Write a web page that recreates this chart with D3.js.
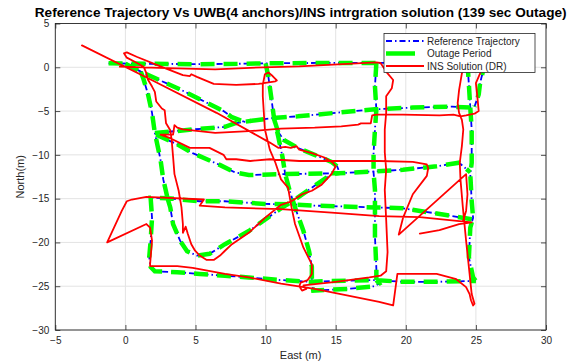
<!DOCTYPE html>
<html>
<head>
<meta charset="utf-8">
<script src="https://cdn.jsdelivr.net/npm/d3@7"></script>
<style>
  html, body { margin: 0; padding: 0; background: #ffffff; }
  svg { display: block; font-family: "Liberation Sans", Arial, Helvetica, sans-serif; }
</style>
</head>
<body>
<svg id="chart" width="577" height="364"></svg>
<script>
// ---- chart text -------------------------------------------------------
const titleText = "Reference Trajectory Vs UWB(4 anchors)/INS intrgration solution (139 sec Outage)";
const xLabelText = "East (m)";
const yLabelText = "North(m)";
const seriesNames = ["Reference Trajectory", "Outage Period", "INS Solution (DR)"];

// ---- tick values ------------------------------------------------------
const xTicks = [-5, 0, 5, 10, 15, 20, 25, 30];
const yTicks = [5, 0, -5, -10, -15, -20, -25, -30];

// ---- reference trajectory [east, north] in metres (null = pen up) -----
const referenceTrack = [
  [-1.2,0.45],[2,0.4],[5,0.35],[8,0.4],[10,0.45],[14,0.5],[18,0.5],[22,0.55],[24.4,0.55],[25.8,0.7], null,
  [24.4,0.5],[24.5,-2.0],[24.6,-4.6], null,
  [25.8,0.6],[25.5,-0.5],[25.3,-1.8],[25.2,-3.1],[24.9,-4.5], null,
  [24.6,-4.6],[23.3,-4.5],[20.5,-4.6],[17.8,-4.8],[15,-5.2],[12.3,-5.6],[10.5,-5.8],[9.0,-6.1], null,
  [0,0.4],[1.1,-0.5],[4.0,-2.6],[7.0,-5.0],[7.6,-5.7],[8.6,-6.3],[9.0,-6.1], null,
  [1.1,-0.5],[1.3,-1.4],[1.6,-3.0],[1.9,-5.2],[2.1,-7.5],[2.5,-10.5],[2.7,-12.8],[3.0,-14.9], null,
  [2.1,-7.5],[3.5,-7.3],[4.8,-7.1],[7.1,-6.8],[7.8,-6.4],[9.0,-6.1], null,
  [2.2,-7.7],[3.7,-8.8],[4.8,-9.8],[6.8,-11.2],[7.8,-12.0],[8.8,-12.3],[11.2,-12.2],[15.2,-12.1],[17.7,-11.9],[19.8,-11.7],[22.2,-11.3],[23.8,-10.9],[24.6,-12.0], null,
  [10.0,0.45],[10.2,-1.1],[10.4,-3.4],[10.6,-5.8],[10.9,-7.9],[11.2,-10.2],[11.4,-12.2],[11.7,-14.0],[12.1,-16.0],[12.7,-18.7],[13.1,-21.0],[13.3,-22.8],[13.3,-24.5],[13.4,-25.5],[15.9,-25.3],[17.8,-25.0],[18.1,-24.7],[17.9,-24.3], null,
  [10.6,-5.9],[10.9,-7.4],[11.3,-8.3],[12.3,-9.2],[13.5,-10.0],[14.7,-10.8],[15.1,-11.3],[15.3,-12.1], null,
  [17.9,0.5],[17.8,-2.2],[17.9,-4.8],[17.8,-7.1],[17.7,-9.8],[17.7,-12.0],[17.8,-14.0],[17.8,-16.2],[17.8,-19.3],[17.9,-23.0],[17.9,-24.3], null,
  [24.6,-4.6],[24.7,-7.1],[24.7,-10.9],[24.6,-12.2],[24.7,-15.3],[24.8,-17.2],[24.6,-18.3],[24.5,-21.7],[24.8,-24.0],[25.0,-24.4], null,
  [24.7,-17.35],[22.2,-16.7],[19.8,-16.1],[17.8,-16.0],[13.5,-15.8],[11.8,-15.65],[9.95,-15.6],[7.1,-15.3],[5.3,-15.3],[3.0,-14.95],[1.8,-14.9],
  [1.9,-17.2],[1.8,-19.8],[1.7,-21.7],[1.8,-22.8],[2.1,-23.3],[3.7,-23.4],[5.3,-23.6],[7.1,-23.8],[8.8,-24.0],[11.1,-24.3],[13.3,-24.5],[14.7,-24.4],[17.8,-24.3],[19.8,-24.5],[22.2,-24.5],[25.0,-24.4], null,
  [3.0,-14.95],[3.2,-16.0],[3.4,-17.9],[3.9,-19.8],[4.4,-21.0],[5.1,-21.5],[6.0,-21.3],[7.1,-20.2],[8.8,-18.7],[11.2,-16.0],[11.9,-15.3],[14.7,-12.2],[15.3,-12.1]
];

// outage window, as index range into the reference run (whole run)
const outageWindow = [0, referenceTrack.length];

// ---- INS dead-reckoning solution [east, north] (null = pen up) --------
const insTrack = [
  [-3.1,2.5],[1.8,-1.4],[6.5,-5.2],[10.3,-8.6],[10.9,-9.2],[11.4,-9.1],[11.8,-9.2],[12.2,-9.0],[12.4,-9.4],[13.3,-9.8],[14.2,-10.3],[14.8,-10.9],[15.0,-11.3],
  [14.7,-12.2],[14.0,-13.4],[13.3,-14.1],[12.6,-14.5],[11.85,-15.3],[11.1,-15.7],[9.95,-17.2],[8.8,-18.9],[7.6,-20.2],[7.1,-20.95],[6.75,-21.5],[6.3,-22.0],[5.8,-22.0],[5.3,-21.5],[4.97,-20.95],[4.7,-20.2],[4.45,-19.0],[4.3,-18.2],[4.1,-18.9],[4.1,-17.9],
  [4.0,-16.0],[3.8,-14.1],[3.5,-12.2],[3.4,-10.2],[3.3,-8.3],[3.2,-7.2],[2.9,-6.4],[2.8,-4.9],[2.6,-4.7],[2.5,-4.5],[2.2,-3.9],[2.1,-2.8],[1.9,-2.2],[1.6,-1.4],[1.5,-0.7],[1.3,0.07],[0.7,0.6],[0.1,1.1],[-0.1,1.6],
  [0.1,1.7],[0.8,1.2],[2.5,0.1],[4.1,-0.9],[4.6,-1.0],[4.7,-0.8],[5.1,-1.1],[6.3,-1.9],[7.9,-2.0],[9.5,-1.9],[10.7,-1.6],[10.8,-1.5],[10.5,-1.0],[10.2,-0.6],[9.95,-0.8],
  [9.8,-2.0],[9.8,-3.3],[9.95,-7.1],[10.3,-9.4],[10.7,-10.9],[11.1,-12.8],[11.6,-13.75],[11.85,-16.0],[12.1,-17.9],[12.7,-20.6],[13.3,-22.5],[13.3,-23.6],[13.0,-24.3],[12.5,-24.6],[12.4,-25.0],[12.6,-25.5],[12.9,-25.3],[12.7,-24.9],
  [15.0,-24.5],[17.4,-24.0],[18.2,-23.8],[18.6,-23.3],[18.7,-21.1],[18.6,-17.4],[18.5,-14.0],[18.6,-11.7],[18.5,-9.7],[18.5,-7.1],[18.6,-5.2],[18.6,-3.3],[19.0,-2.4],[19.1,-1.45],[18.7,-0.7],[18.2,0.5],
  [17.9,0.55],[12.4,0.1],[9.8,0.0],[6.4,-0.23],[3.0,-0.1],[-0.4,0.07], null,
  [25.5,0.8],[25.3,-0.7],[25.0,-1.8],[25.1,-3.3],[25.2,-5.0],[24.9,-5.3],[24.3,-5.5],[23.9,-5.6],[23.4,-5.4],[22.4,-5.5],[19.8,-5.4],[17.9,-5.4],[17.6,-5.5],[17.5,-6.4],[16.8,-6.4],[16.6,-6.55],[15.4,-6.75],[13.5,-6.9],[11.1,-7.0],[8.8,-7.3],[6.4,-7.5],[4.1,-7.1],[3.7,-6.9],[3.5,-6.6],[3.4,-7.7],[2.5,-7.7],
  [3.2,-8.1],[4.6,-9.2],[6.0,-9.2],[7.0,-10.0],[7.2,-10.5],[7.9,-10.5],[8.9,-10.7],[10.3,-10.5],[12.4,-10.7],[14.8,-10.7],[18.1,-10.7],[20.5,-10.8],[21.5,-11.1],[21.6,-11.5],[21.5,-12.4],[20.5,-14.5],[19.8,-17.2],[19.5,-19.1],
  [24.3,-12.2],[24.4,-14.5],[24.3,-16.4],[24.1,-17.5], null,
  [24.3,0.6],[24.0,-0.7],[23.8,-2.6],[23.7,-4.1],[23.8,-5.2],[24.0,-6.0],[24.1,-7.1],[24.0,-9.0],[23.85,-10.9],[23.9,-12.8],[24.07,-16.0],[24.3,-19.8],[24.55,-23.6],[24.7,-25.9],[24.9,-27.0],[24.8,-27.2],[24.65,-26.6],[24.55,-25.9],
  [24.3,-25.1],[23.6,-24.2],[22.2,-23.6],[19.4,-23.6],[19.1,-27.2],[18.1,-26.8],[13.5,-25.3],[11.1,-24.7],[8.8,-24.0],[7.1,-23.6],[4.8,-22.9],[3.7,-22.7],[1.76,-22.7],[1.76,-22.5],[1.9,-19.8],[1.76,-18.3],[1.5,-17.9],
  [-1.3,-20.0],[-0.26,-16.4],[0.1,-15.3],[0.46,-15.1],[1.5,-14.8],[5.6,-15.1],[5.3,-15.8],[7.1,-16.0],[11.1,-16.2],[14.7,-16.6],[18.1,-17.0],[21.0,-17.1],[24.7,-17.7],[23.8,-17.9],[22.4,-18.6],[21.0,-19.0]
];

// ---- styling ----------------------------------------------------------
const colors = { reference: "#0000ff", outage: "#00ff00", ins: "#ff0000", axis: "#262626", grid: "#e3e3e3" };
const plot = { left: 55.3, right: 546, top: 23.5, bottom: 330 };

const svg = d3.select("#chart");

const x = d3.scaleLinear().domain([-5, 30]).range([plot.left, plot.right]);
const y = d3.scaleLinear().domain([-30, 5]).range([plot.bottom, plot.top]);

// grid
const grid = svg.append("g");
grid.selectAll("line.gx").data(xTicks).join("line")
  .attr("x1", d => x(d)).attr("x2", d => x(d))
  .attr("y1", plot.top).attr("y2", plot.bottom)
  .attr("stroke", colors.grid).attr("stroke-width", 1);
grid.selectAll("line.gy").data(yTicks).join("line")
  .attr("x1", plot.left).attr("x2", plot.right)
  .attr("y1", d => y(d)).attr("y2", d => y(d))
  .attr("stroke", colors.grid).attr("stroke-width", 1);

// data
svg.append("clipPath").attr("id", "plotClip").append("rect")
  .attr("x", plot.left).attr("y", plot.top)
  .attr("width", plot.right - plot.left).attr("height", plot.bottom - plot.top);

const line = d3.line()
  .defined(d => d !== null)
  .x(d => x(d[0])).y(d => y(d[1]));

const data = svg.append("g").attr("clip-path", "url(#plotClip)");

data.append("path").datum(referenceTrack)
  .attr("d", line).attr("fill", "none")
  .attr("stroke", colors.reference).attr("stroke-width", 1.8)
  .attr("stroke-dasharray", "6,3,1.5,3");

data.append("path").datum(referenceTrack.slice(outageWindow[0], outageWindow[1]))
  .attr("d", line).attr("fill", "none")
  .attr("stroke", colors.outage).attr("stroke-width", 4.5)
  .attr("stroke-dasharray", "14,9");

data.append("path").datum(insTrack)
  .attr("d", line).attr("fill", "none")
  .attr("stroke", colors.ins).attr("stroke-width", 1.8)
  .attr("stroke-linejoin", "round").attr("stroke-linecap", "round");

// axes (ticks point inward on every side)
function styleAxis(g) {
  g.select(".domain").remove();
  g.selectAll(".tick line").attr("stroke", colors.axis).attr("stroke-width", 0.8);
  g.selectAll(".tick text").attr("fill", colors.axis).style("font-size", "10px")
    .style("font-family", '"Liberation Sans", Arial, Helvetica, sans-serif');
}
svg.append("g").attr("transform", `translate(0,${plot.bottom})`)
  .call(d3.axisBottom(x).tickValues(xTicks).tickSizeInner(-5).tickSizeOuter(0).tickPadding(7).tickFormat(d3.format("d")))
  .call(styleAxis);
svg.append("g").attr("transform", `translate(0,${plot.top})`)
  .call(d3.axisTop(x).tickValues(xTicks).tickSizeInner(-5).tickSizeOuter(0).tickFormat(""))
  .call(styleAxis);
svg.append("g").attr("transform", `translate(${plot.left},0)`)
  .call(d3.axisLeft(y).tickValues(yTicks).tickSizeInner(-5).tickSizeOuter(0).tickPadding(6).tickFormat(d3.format("d")))
  .call(styleAxis);
svg.append("g").attr("transform", `translate(${plot.right},0)`)
  .call(d3.axisRight(y).tickValues(yTicks).tickSizeInner(-5).tickSizeOuter(0).tickFormat(""))
  .call(styleAxis);

svg.append("rect")
  .attr("x", plot.left).attr("y", plot.top)
  .attr("width", plot.right - plot.left).attr("height", plot.bottom - plot.top)
  .attr("fill", "none").attr("stroke", colors.axis).attr("stroke-width", 0.9);

// title and axis labels
const title = svg.append("text")
  .attr("x", (plot.left + plot.right) / 2).attr("y", 16.5)
  .attr("text-anchor", "middle").attr("font-weight", "bold")
  .attr("fill", "#000").style("font-size", "11px").text(titleText);
const tw = title.node().getComputedTextLength();
if (tw > 0) title.style("font-size", (11 * 532 / tw).toFixed(2) + "px");

svg.append("text")
  .attr("x", (plot.left + plot.right) / 2).attr("y", 359)
  .attr("text-anchor", "middle").attr("fill", colors.axis)
  .style("font-size", "11px").text(xLabelText);

svg.append("text")
  .attr("transform", `translate(24,${(plot.top + plot.bottom) / 2}) rotate(-90)`)
  .attr("text-anchor", "middle").attr("fill", colors.axis)
  .style("font-size", "11px").text(yLabelText);

// legend
const legend = svg.append("g");
legend.append("rect")
  .attr("x", 384).attr("y", 33.5).attr("width", 151).attr("height", 39)
  .attr("fill", "#fff").attr("stroke", colors.axis).attr("stroke-width", 0.8);
const legendRows = [
  { name: seriesNames[0], color: colors.reference, width: 1.8, dash: "6,3,1.5,3", x2: 424 },
  { name: seriesNames[1], color: colors.outage, width: 4.5, dash: null, x2: 415 },
  { name: seriesNames[2], color: colors.ins, width: 1.8, dash: null, x2: 424 }
];
legendRows.forEach((r, i) => {
  const yy = 41 + i * 12.5;
  legend.append("line")
    .attr("x1", 386).attr("x2", r.x2).attr("y1", yy).attr("y2", yy)
    .attr("stroke", r.color).attr("stroke-width", r.width)
    .attr("stroke-dasharray", r.dash);
  legend.append("text")
    .attr("x", 427).attr("y", yy).attr("dy", "0.35em")
    .attr("fill", colors.axis).style("font-size", "10px").text(r.name);
});
</script>
</body>
</html>
